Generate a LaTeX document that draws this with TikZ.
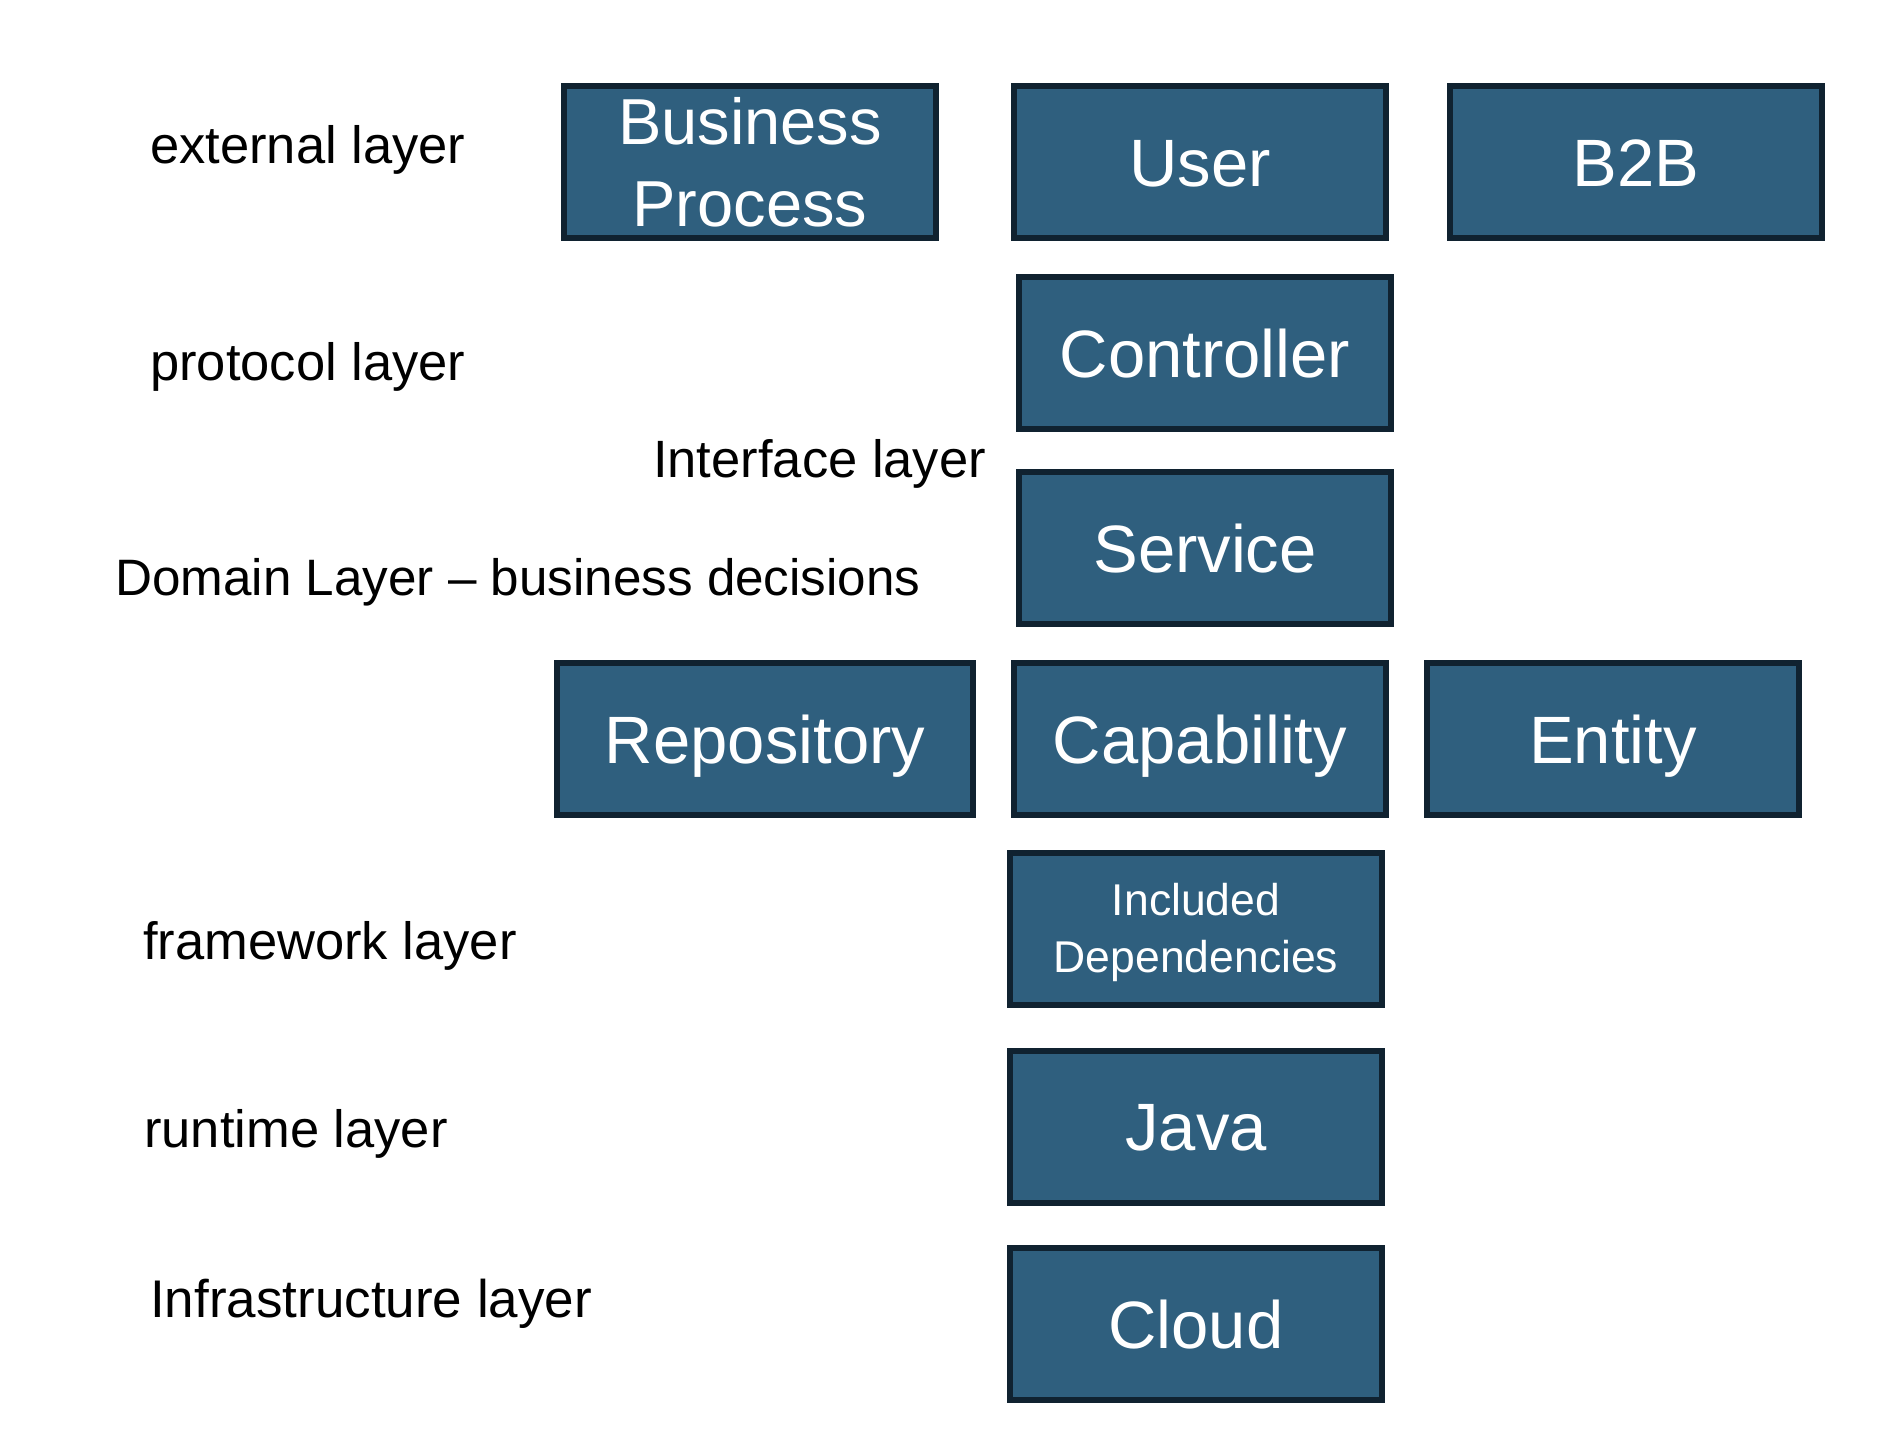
\documentclass[tikz,border=0pt]{standalone}
\usepackage{fontspec}
\setmainfont{Liberation Sans}
\definecolor{boxfill}{RGB}{47,95,126}
\definecolor{boxline}{RGB}{16,34,48}
\begin{document}
\begin{tikzpicture}[x=1pt,y=-1pt,
  basebox/.style={draw=boxline, fill=boxfill, line width=6pt,
    minimum width=372pt, minimum height=152pt, inner sep=0pt,
    text=white, align=center},
  box/.style={basebox, font=\fontsize{67}{80}\selectfont,
    text height=48pt, text depth=0pt},
  widebox/.style={box, minimum width=416pt},
  lbl/.style={anchor=base west, inner sep=0pt, text=black,
    font=\fontsize{52.5}{63}\selectfont}]
\useasboundingbox[fill=white] (0,0) rectangle (1886,1444);

% boxes
\node[basebox, font=\fontsize{65}{82}\selectfont] (bp) at (750,162) {Business\\Process};
\node[box] (user) at (1200,162) {User};
\node[box] (b2b) at (1636,162) {B2B};
\node[box] (ctrl) at (1205,353) {Controller};
\node[box] (serv) at (1205,548) {Service};
\node[widebox] (repo) at (765,739) {Repository};
\node[box] (cap) at (1200,739) {Capability};
\node[box] (ent) at (1613,739) {Entity};
\node[basebox, font=\fontsize{44.5}{57}\selectfont] (incl) at (1196,928.5) {Included\\De\smash{p}endencies};
\node[box] (java) at (1196,1126.5) {Java};
\node[box] (cloud) at (1196,1324) {Cloud};

% layer labels
\node[lbl] (lext) at (150,163) {external layer};
\node[lbl] (lprot) at (150,380) {protocol layer};
\node[lbl] (lint) at (653,477) {Interface layer};
\node[lbl, font=\fontsize{51.2}{62}\selectfont] (ldom) at (115,595) {Domain Layer – business decisions};
\node[lbl] (lfw) at (143,959) {framework layer};
\node[lbl] (lrt) at (144,1147) {runtime layer};
\node[lbl, font=\fontsize{53}{63}\selectfont] (linf) at (150,1317) {Infrastructure layer};
\end{tikzpicture}
\end{document}
